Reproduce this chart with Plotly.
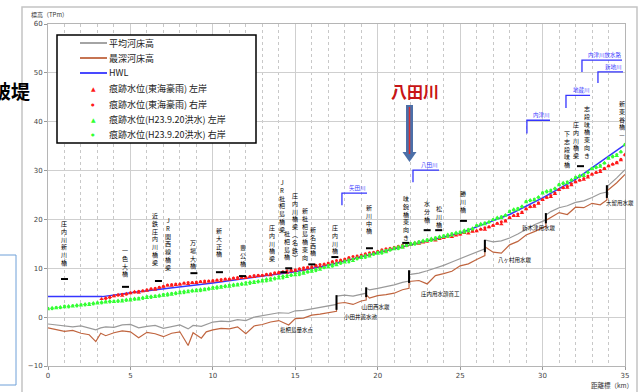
import plotly.graph_objects as go

# ---------------- data ----------------
SCATTER_KM = [round(i * 0.25, 2) for i in range(141)]

GREEN_LEFT = [
    1.6, 1.9, 1.8, 2.1, 2.0, 2.3, 2.2, 2.5, 2.4, 2.7, 2.5, 2.9, 2.8, 3.1, 3.0, 3.3,
    3.1, 3.4, 3.2, 3.6, 3.4, 3.8, 3.6, 4.0, 3.9, 4.3, 4.1, 4.5, 4.4, 4.8, 4.6, 5.0,
    4.9, 5.3, 5.1, 5.5, 5.3, 5.7, 5.5, 5.9, 5.8, 6.2, 6.0, 6.4, 6.2, 6.7, 6.5, 6.9,
    6.7, 7.2, 7.0, 7.4, 7.3, 7.8, 7.5, 8.0, 7.9, 8.4, 8.2, 8.7, 8.6, 9.1, 8.9, 9.4,
    9.3, 9.8, 9.7, 10.2, 10.2, 10.8, 10.6, 11.2, 11.2, 11.7, 11.5, 12.1, 12.1, 12.6, 12.4, 13.0,
    13.0, 13.5, 13.3, 13.9, 13.9, 14.4, 14.2, 14.8, 14.8, 15.3, 15.1, 15.7, 15.6, 16.1, 15.9, 16.5,
    16.4, 16.9, 16.7, 17.3, 17.2, 17.8, 17.6, 18.2, 18.7, 19.1, 19.0, 19.5, 19.9, 20.4, 20.3, 20.9,
    21.5, 22.1, 22.0, 22.7, 23.5, 24.0, 23.9, 24.6, 25.3, 25.8, 25.7, 26.4, 27.0, 27.5, 27.4, 28.1,
    28.5, 29.0, 28.9, 29.7, 30.3, 30.8, 30.8, 31.6, 32.4, 33.0, 33.0, 33.9, 35.2,
]
GREEN_RIGHT = [
    1.8, 1.7, 2.0, 1.9, 2.3, 2.1, 2.4, 2.3, 2.6, 2.5, 2.8, 2.7, 3.0, 2.9, 3.2, 3.1,
    3.3, 3.2, 3.5, 3.4, 3.7, 3.6, 3.9, 3.8, 4.2, 4.0, 4.4, 4.3, 4.7, 4.5, 4.9, 4.8,
    5.2, 5.0, 5.4, 5.3, 5.6, 5.4, 5.8, 5.7, 6.1, 5.9, 6.3, 6.2, 6.6, 6.4, 6.8, 6.7,
    7.1, 6.9, 7.3, 7.2, 7.6, 7.4, 7.9, 7.8, 8.3, 8.0, 8.5, 8.5, 9.0, 8.7, 9.2, 9.2,
    9.6, 9.5, 10.0, 10.1, 10.6, 10.4, 11.0, 11.0, 11.5, 11.3, 11.9, 11.9, 12.4, 12.2, 12.8, 12.8,
    13.3, 13.1, 13.7, 13.7, 14.2, 14.0, 14.6, 14.6, 15.1, 14.9, 15.5, 15.5, 15.9, 15.7, 16.3, 16.3,
    16.7, 16.5, 17.1, 17.1, 17.5, 17.4, 18.0, 18.0, 18.8, 18.9, 19.3, 19.4, 20.0, 20.2, 20.6, 20.8,
    21.7, 21.9, 22.3, 22.6, 23.7, 23.8, 24.2, 24.5, 25.5, 25.6, 26.0, 26.3, 27.2, 27.3, 27.7, 28.0,
    28.7, 28.8, 29.2, 29.6, 30.5, 30.6, 31.1, 31.5, 32.6, 32.8, 33.3, 33.8, 35.4,
]
RED_LEFT = [
    None, None, None, None, None, None, None, None, None, None, None, None, None, 3.7, 3.9, 4.1,
    4.3, 4.6, 4.4, 4.8, 4.9, 5.2, 5.0, 5.3, 5.4, 5.7, 5.6, 6.0, 6.2, 6.5, 6.4, 6.6,
    6.7, 6.9, 6.8, 7.0, 7.0, 7.2, 7.1, 7.3, 7.3, 7.5, 7.4, 7.7, 7.7, 7.9, 7.8, 8.0,
    8.0, 8.2, 8.2, 8.4, 8.5, 8.7, 8.6, 8.9, 9.0, 9.2, 9.1, 9.4, 9.5, 9.8, 9.7, 10.0,
    10.1, 10.4, 10.3, 10.7, 10.9, 11.2, 11.1, 11.5, 11.7, 12.0, 11.9, 12.3, 12.5, 12.8, 12.7, 13.1,
    13.3, 13.6, 13.5, 13.9, 14.1, 14.4, 14.3, 14.6, 14.8, 15.1, 15.0, 15.3, 15.5, 15.8, 15.7, 16.0,
    16.2, 16.5, 16.4, 16.7, 16.9, 17.2, 17.1, 17.5, 17.6, 18.0, 17.9, 18.4, 18.7, 19.1, 19.0, 19.6,
    20.3, 20.7, 20.7, 21.3, 22.1, 22.6, 22.6, 23.2, 24.0, 24.5, 24.6, 25.2, 26.0, 26.5, 26.5, 27.0,
    27.6, 28.0, 28.1, 28.6, 29.2, 29.6, 29.7, 30.3, 30.9, 31.3, 31.5, 32.1, 33.3,
]
RED_RIGHT = [
    None, None, None, None, None, None, None, None, None, None, None, None, None, None, 3.8, 4.0,
    4.4, 4.5, 4.7, 4.7, 5.0, 5.1, 5.3, 5.4, 5.6, 5.8, 5.9, 6.1, 6.3, 6.6, 6.7, 6.8,
    6.8, 7.0, 7.1, 7.1, 7.2, 7.3, 7.4, 7.4, 7.5, 7.6, 7.7, 7.8, 7.8, 8.0, 8.1, 8.2,
    8.2, 8.3, 8.5, 8.6, 8.6, 8.8, 8.9, 9.1, 9.2, 9.3, 9.5, 9.6, 9.7, 9.9, 10.1, 10.2,
    10.3, 10.6, 10.8, 10.9, 11.1, 11.4, 11.6, 11.7, 11.9, 12.2, 12.4, 12.5, 12.7, 13.0, 13.2, 13.3,
    13.5, 13.8, 14.0, 14.1, 14.3, 14.5, 14.7, 14.8, 15.0, 15.2, 15.4, 15.5, 15.6, 15.9, 16.1, 16.2,
    16.3, 16.6, 16.8, 16.9, 17.0, 17.3, 17.6, 17.7, 17.7, 18.0, 18.3, 18.5, 18.8, 19.2, 19.5, 19.8,
    20.4, 20.8, 21.1, 21.5, 22.2, 22.6, 22.9, 23.4, 24.1, 24.5, 24.9, 25.4, 26.1, 26.5, 26.8, 27.3,
    27.7, 28.0, 28.4, 28.9, 29.3, 29.6, 30.0, 30.5, 31.0, 31.3, 31.7, 32.3, 33.2,
]

LINE_KM = [0, 0.5, 1, 1.5, 2, 2.5, 2.9, 3.2, 3.5, 4, 4.5, 5, 5.5, 6, 6.5, 7, 7.5, 8, 8.5, 8.8,
           9.3, 9.6, 10, 10.5, 11, 11.5, 12, 12.5, 13, 13.5, 14, 14.6, 15, 15.5, 16, 16.5, 17,
           17.5, 17.5, 18, 18.5, 19, 19.3, 19.3, 19.5, 20, 20.5, 21, 21.5, 21.9, 21.9, 22.5, 23,
           23.5, 24, 24.5, 25, 25.5, 26, 26.5, 26.5, 27, 27.5, 28, 28.5, 29, 29.5, 30, 30.2, 30.2,
           30.5, 31, 31.5, 32, 32.5, 33, 33.5, 33.9, 33.9, 34.5, 35]
AVG_BED = [-1.4, -1.6, -1.8, -2.0, -1.8, -2.2, -2.6, -2.2, -2.0, -2.1, -1.6, -1.5, -2.2, -1.9,
           -1.7, -2.3, -2.0, -1.6, -2.4, -1.7, -1.9, -1.5, -1.0, -0.8, -0.9, -0.5, -0.7, 0.0, 0.3,
           0.6, 0.9, 0.8, 1.3, 1.4, 1.7, 1.9, 2.2, 2.6, 4.3, 4.5, 4.3, 4.7, 4.9, 5.9, 5.6, 5.9, 6.2,
           6.6, 7.1, 7.4, 8.7, 9.0, 9.5, 10.0, 10.6, 11.3, 12.0, 12.7, 13.4, 14.0, 15.8, 15.4, 15.6,
           16.2, 17.0, 17.9, 18.9, 19.6, 19.9, 20.9, 21.6, 22.4, 22.8, 23.5, 23.8, 24.5, 25.3, 25.6,
           26.7, 28.5, 30.2]
DEEP_BED = [-2.2, -2.6, -2.9, -2.7, -3.3, -3.6, -5.0, -3.3, -3.8, -3.2, -2.8, -3.0, -4.2, -3.1,
            -3.4, -4.0, -3.3, -3.0, -5.8, -3.2, -4.3, -3.0, -2.6, -2.3, -2.4, -2.0, -3.4, -1.8,
            -1.5, -1.0, -0.7, -1.6, -0.3, -0.2, 0.4, 0.6, 0.9, 1.2, 2.8, 3.0, 2.6, 3.3, 3.5, 4.6,
            3.9, 4.4, 4.6, 4.9, 5.6, 5.9, 7.3, 7.5, 6.8, 8.5, 8.9, 9.4, 10.5, 10.9, 11.8, 12.6, 14.4,
            13.3, 13.1, 14.8, 15.5, 16.8, 17.5, 18.3, 18.6, 19.8, 20.4, 21.4, 21.0, 22.5, 22.4, 23.3,
            23.0, 24.0, 25.8, 27.5, 29.2]

HWL_KM = [0, 3.3, 5, 10, 15, 17, 20, 25, 28, 30, 32, 35]
HWL = [4.2, 4.2, 5.0, 7.0, 9.3, 10.6, 13.2, 17.2, 21.0, 24.4, 28.2, 35.3]

# bridges: km, top elevation of the vertical label, name
BRIDGE_KM = [1.0, 4.7, 6.5, 7.3, 8.8, 10.4, 11.8, 13.6, 14.2, 14.5, 15.0, 15.6, 16.1, 17.4,
             19.5, 21.7, 23.0, 23.7, 25.2, 31.5, 32.0, 32.7, 34.8]
BRIDGE_TOP = [20.3, 14.8, 21.9, 20.9, 16.4, 18.8, 15.4, 19.5, 28.7, 18.2, 26.0, 22.9, 19.0, 19.5,
              23.6, 25.4, 24.4, 23.3, 26.4, 38.7, 40.5, 43.8, 44.8]
BRIDGE_NAME = ["庄内川新川橋", "一色大橋", "近鉄庄内川橋梁", "JR関西線橋梁", "万場大橋", "新大正橋",
               "豊公橋", "庄内川橋梁", "JR枇杷島橋梁", "枇杷島橋", "庄内川橋梁︵名鉄︶",
               "新枇杷島橋東向", "新名西橋", "庄内川橋", "新川中橋", "味鋺橋東向き", "水分橋",
               "松川橋", "勝川橋", "下志段味橋", "庄内川橋梁", "志段味橋東向き", "新東谷橋—"]
DASH_KM = [1.0, 4.7, 6.7, 8.85, 10.4, 11.8, 14.3, 14.6, 16.0, 17.4, 19.5, 21.7, 23.0, 23.7, 25.2, 32.3]
DASH_Y = [7.8, 6.2, 7.4, 9.0, 9.2, 8.4, 9.2, 10.0, 10.8, 12.3, 14.1, 15.2, 17.8, 17.8, 19.7, 30.9]

# tributaries: km of bracket start, km of bracket end, low / high elevation, name
TRIB_KM0 = [17.83, 22.14, 29.05, 31.42, 32.39, 33.36]
TRIB_KM1 = [19.35, 23.72, 30.45, 32.88, 34.82, 34.88]
TRIB_LO = [22.9, 27.6, 37.6, 42.8, 50.2, 47.9]
TRIB_HI = [25.4, 30.1, 40.3, 45.4, 52.6, 50.2]
TRIB_NAME = ["矢田川", "八田川", "内津川", "地蔵川", "内津川放水路", "新地川"]

# weirs
WEIR_KM = [17.5, 19.3, 21.9, 26.5, 30.2, 33.9]
WEIR_LO = [1.5, 4.1, 7.0, 13.3, 19.2, 24.4]
WEIR_HI = [4.5, 6.1, 9.6, 15.8, 21.3, 27.0]
STRUCT_KM = [15.1, 19.0, 19.9, 23.8, 28.3, 29.8, 34.7]
STRUCT_Y = [-2.7, 0.0, 2.1, 4.7, 11.7, 18.2, 23.3]
STRUCT_NAME = ["枇杷島量水点", "小田井遊水池", "山田西水堰", "庄内用水頭首工", "八ヶ村用水堰",
               "新木津用水堰", "大留用水堰"]

LEGEND_NAMES = ["平均河床高", "最深河床高", "HWL", "痕跡水位(東海豪雨) 左岸",
                "痕跡水位(東海豪雨) 右岸", "痕跡水位(H23.9.20洪水) 左岸", "痕跡水位(H23.9.20洪水) 右岸"]

# ---------------- style ----------------
W, H = 643, 392
ML, MR, MT, MB = 48, 18, 24, 26
PW, PH = W - ML - MR, H - MT - MB
JP = "Noto Sans CJK JP"
C_GRAY = "#9a9a9a"
C_BROWN = "#c0653f"
C_BLUE = "#3535ff"
C_RED = "#ff1a1a"
C_GREEN = "#33ff33"


def px(x):
    return (x - ML) / PW


def py(y):
    return (H - MB - y) / PH


fig = go.Figure()

fig.add_trace(go.Scatter(x=LINE_KM, y=AVG_BED, mode="lines", line=dict(color=C_GRAY, width=1.2),
                         showlegend=False, name=LEGEND_NAMES[0]))
fig.add_trace(go.Scatter(x=LINE_KM, y=DEEP_BED, mode="lines", line=dict(color=C_BROWN, width=1.2),
                         showlegend=False, name=LEGEND_NAMES[1]))
fig.add_trace(go.Scatter(x=HWL_KM, y=HWL, mode="lines", line=dict(color=C_BLUE, width=1.5),
                         showlegend=False, name=LEGEND_NAMES[2]))
fig.add_trace(go.Scatter(x=SCATTER_KM, y=RED_LEFT, mode="markers",
                         marker=dict(symbol="triangle-up", size=4, color=C_RED, line=dict(width=0)),
                         showlegend=False, name=LEGEND_NAMES[3]))
fig.add_trace(go.Scatter(x=SCATTER_KM, y=RED_RIGHT, mode="markers",
                         marker=dict(symbol="circle", size=3, color=C_RED, line=dict(width=0)),
                         showlegend=False, name=LEGEND_NAMES[4]))
fig.add_trace(go.Scatter(x=SCATTER_KM, y=GREEN_LEFT, mode="markers",
                         marker=dict(symbol="triangle-up", size=4, color=C_GREEN, line=dict(width=0)),
                         showlegend=False, name=LEGEND_NAMES[5]))
fig.add_trace(go.Scatter(x=SCATTER_KM, y=GREEN_RIGHT, mode="markers",
                         marker=dict(symbol="circle", size=3, color=C_GREEN, line=dict(width=0)),
                         showlegend=False, name=LEGEND_NAMES[6]))

# weir bars
wx, wy = [], []
for k, lo, hi in zip(WEIR_KM, WEIR_LO, WEIR_HI):
    wx += [k, k, None]
    wy += [lo, hi, None]
fig.add_trace(go.Scatter(x=wx, y=wy, mode="lines", line=dict(color="black", width=2), showlegend=False))

# tributary brackets
tx, ty = [], []
for k0, k1, lo, hi in zip(TRIB_KM0, TRIB_KM1, TRIB_LO, TRIB_HI):
    tx += [k0, k0, k1, None]
    ty += [lo, hi, hi, None]
fig.add_trace(go.Scatter(x=tx, y=ty, mode="lines", line=dict(color=C_BLUE, width=1.3), showlegend=False))

# bridge dashes
fig.add_trace(go.Scatter(x=DASH_KM, y=DASH_Y, mode="markers",
                         marker=dict(symbol="line-ew", size=5, line=dict(color="black", width=2)),
                         showlegend=False))

ann = []
for k, top, name in zip(BRIDGE_KM, BRIDGE_TOP, BRIDGE_NAME):
    ann.append(dict(x=k, y=top, xref="x", yref="y", text="<br>".join(list(name)), showarrow=False,
                    xanchor="center", yanchor="top", font=dict(family=JP, size=6, color="black"),
                    borderpad=0))
for k0, k1, hi, name in zip(TRIB_KM0, TRIB_KM1, TRIB_HI, TRIB_NAME):
    ann.append(dict(x=(k0 + k1) / 2 + 0.2, y=hi, xref="x", yref="y", text=name, showarrow=False,
                    xanchor="center", yanchor="bottom", font=dict(family=JP, size=5.5, color=C_BLUE),
                    borderpad=0))
for k, y, name in zip(STRUCT_KM, STRUCT_Y, STRUCT_NAME):
    ann.append(dict(x=k, y=y, xref="x", yref="y", text=name, showarrow=False,
                    xanchor="center", yanchor="middle", font=dict(family=JP, size=5.5, color="black"),
                    borderpad=0))

# axis titles
ann.append(dict(x=px(29), y=py(14), xref="paper", yref="paper", text="標高（TPm）", showarrow=False,
                xanchor="left", yanchor="middle", font=dict(family=JP, size=6, color="#333")))
ann.append(dict(x=px(612), y=py(385), xref="paper", yref="paper", text="距離標（km）", showarrow=False,
                xanchor="center", yanchor="middle", font=dict(family=JP, size=6.5, color="#333")))

# custom legend
shapes = []
shapes.append(dict(type="rect", xref="paper", yref="paper", x0=px(22), x1=px(637), y0=py(400), y1=py(7),
                   line=dict(color="#c4c4c4", width=1.5), fillcolor="rgba(0,0,0,0)", layer="below"))
shapes.append(dict(type="rect", xref="paper", yref="paper", x0=px(57), x1=px(256), y0=py(143), y1=py(35),
                   line=dict(color="black", width=1.5), fillcolor="white", layer="above"))
rows = [43, 58, 73, 89, 104, 119, 134]
line_cols = [C_GRAY, C_BROWN, C_BLUE]
for i, name in enumerate(LEGEND_NAMES):
    yy = py(rows[i])
    if i < 3:
        shapes.append(dict(type="line", xref="paper", yref="paper", x0=px(80), x1=px(107), y0=yy, y1=yy,
                           line=dict(color=line_cols[i], width=1.8), layer="above"))
    else:
        col = C_RED if i < 5 else C_GREEN
        sym = "▲" if i % 2 == 1 else "●"
        ann.append(dict(x=px(93), y=yy, xref="paper", yref="paper", text=sym, showarrow=False,
                        xanchor="center", yanchor="middle",
                        font=dict(family="DejaVu Sans", size=6 if sym == "▲" else 4, color=col)))
    ann.append(dict(x=px(107), y=yy, xref="paper", yref="paper", text=name, showarrow=False,
                    xanchor="left", yanchor="middle", font=dict(family=JP, size=9, color="#222")))

# slide overlays
ann.append(dict(x=px(32), y=py(90), xref="paper", yref="paper", text="<b>破堤</b>", showarrow=False,
                xanchor="right", yanchor="middle", font=dict(family=JP, size=19, color="black")))
ann.append(dict(x=px(415), y=py(91), xref="paper", yref="paper", text="<b>八田川</b>", showarrow=False,
                xanchor="center", yanchor="middle", font=dict(family=JP, size=16, color="#c81414")))
shapes.append(dict(type="rect", xref="paper", yref="paper", x0=px(-5), x1=px(16), y0=py(385), y1=py(255),
                   line=dict(color="#6fa0d8", width=1), fillcolor="rgba(0,0,0,0)"))
shapes.append(dict(type="rect", xref="paper", yref="paper", x0=px(406), x1=px(413), y0=py(153), y1=py(105),
                   line=dict(width=0), fillcolor="#4c6fa8", layer="above"))
shapes.append(dict(type="path", xref="paper", yref="paper",
                   path=f"M {px(402.5)} {py(152)} L {px(416.5)} {py(152)} L {px(409.5)} {py(162)} Z",
                   line=dict(width=0), fillcolor="#4c6fa8", layer="above"))
shapes.append(dict(type="line", xref="paper", yref="paper", x0=px(409.5), x1=px(409.5), y0=py(154), y1=py(107),
                   line=dict(color="#d83030", width=1.5), layer="above"))

fig.update_layout(
    width=W, height=H, autosize=False,
    margin=dict(l=ML, r=MR, t=MT, b=MB, pad=0),
    paper_bgcolor="white", plot_bgcolor="white",
    showlegend=False,
    annotations=ann, shapes=shapes,
    font=dict(family=JP),
)
fig.update_xaxes(range=[0, 35], dtick=5, tick0=0, showgrid=True, gridcolor="#cfcfcf", gridwidth=1,
                 minor=dict(dtick=1, showgrid=True, gridcolor="#c8c8c8", griddash="dot", gridwidth=1),
                 showline=True, linecolor="#b5b5b5", linewidth=1, mirror=True, zeroline=False,
                 ticks="outside", ticklen=3, tickcolor="#999",
                 tickfont=dict(size=7, color="#444", family="DejaVu Sans"))
fig.update_yaxes(range=[-10, 60], dtick=10, tick0=0, showgrid=True, gridcolor="#cfcfcf", gridwidth=1,
                 showline=True, linecolor="#b5b5b5", linewidth=1, mirror=True, zeroline=False,
                 ticks="outside", ticklen=3, tickcolor="#999",
                 tickfont=dict(size=7, color="#444", family="DejaVu Sans"))

fig.write_html("out.html")
